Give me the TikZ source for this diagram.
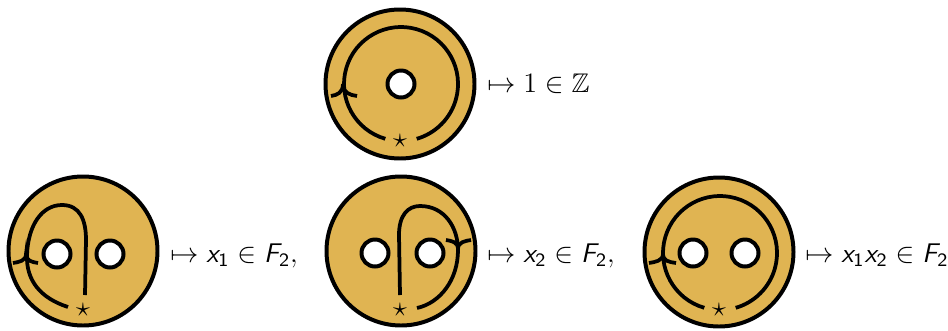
\documentclass[tikz,border=0pt]{standalone}
\usepackage{amsmath,amssymb}
\usepackage{tikz}
\usepackage{xcolor}
\definecolor{diskgold}{RGB}{224, 180, 82}
\newcommand{\sfv}[1]{\textsf{\itshape #1}}
\newcommand{\sfn}[1]{\textsf{#1}}

\begin{document}
\begin{tikzpicture}[x=0.015cm, y=-0.015cm,
    disk/.style={draw, line width=1.7pt, fill=diskgold},
    hole/.style={draw, line width=1.7pt, fill=white},
    loopline/.style={line width=1.6pt},
    lbl/.style={anchor=base west, inner sep=0pt, font=\fontsize{11.5}{14}\selectfont},
    basept/.style={inner sep=0pt, font=\fontsize{11.5}{14}\selectfont}]
    \useasboundingbox (0,0) rectangle (948,330);

    % top disk: annulus with one loop
    \draw[disk] (400,84) circle[radius=74.5];
    \draw[hole] (401,84) circle[radius=13.5];
    \draw[loopline] (385.3,138.8) arc[start angle=106, end angle=434, radius=57];
    \draw[loopline] (331,96) .. controls (337,95) and (343,93) .. (343,84) .. controls (343,93) and (350,95) .. (357,96);
    \node[basept] (s0) at (400,141) {$\star$};
    \node[lbl] (t0) at (487,92) {$\mapsto 1 \in \mathbb{Z}$};

    % bottom left disk: loop round the first hole
    \draw[disk] (83,251) circle[radius=74.5];
    \draw[hole] (57,254) circle[radius=13.5];
    \draw[hole] (110,254) circle[radius=13.5];
    \draw[loopline] (68,307) .. controls (40,298) and (26,280) .. (27,255)
        .. controls (28,225) and (42,205) .. (62,205)
        .. controls (80,205) and (86,220) .. (86,240) -- (85,295);
    \draw[loopline] (13,263) .. controls (19,262) and (26,261) .. (26,254) .. controls (26,261) and (32,262) .. (38,263);
    \node[basept] (s1) at (83,310) {$\star$};
    \node[lbl] (t1) at (170,262) {$\mapsto \sfv{x}_{\sfn{1}} \in \sfv{F}_{\sfn{2}},$};

    % bottom middle disk: loop round the second hole
    \draw[disk] (401,251) circle[radius=74.5];
    \draw[hole] (375,253) circle[radius=13.5];
    \draw[hole] (430,253) circle[radius=13.5];
    \draw[loopline] (400,295) -- (399,235) .. controls (399,215) and (408,206) .. (420,206)
        .. controls (445,206) and (458,228) .. (458,250)
        .. controls (458,280) and (440,303) .. (417,308);
    \draw[loopline] (446,240) .. controls (452,241) and (458,242) .. (458,249) .. controls (458,242) and (465,241) .. (471,240);
    \node[basept] (s2) at (400,310) {$\star$};
    \node[lbl] (t2) at (487,262) {$\mapsto \sfv{x}_{\sfn{2}} \in \sfv{F}_{\sfn{2}},$};

    % bottom right disk: loop round both holes
    \draw[disk] (719,252) circle[radius=74.5];
    \draw[hole] (693,253) circle[radius=13.5];
    \draw[hole] (745,253) circle[radius=13.5];
    \draw[loopline] (704.3,307.8) arc[start angle=106, end angle=434, radius=57];
    \draw[loopline] (649,263) .. controls (655,262) and (663,261) .. (663,254) .. controls (663,261) and (669,262) .. (676,263);
    \node[basept] (s3) at (719,310) {$\star$};
    \node[lbl] (t3) at (805,262) {$\mapsto \sfv{x}_{\sfn{1}}\sfv{x}_{\sfn{2}} \in \sfv{F}_{\sfn{2}}$};
\end{tikzpicture}
\end{document}
